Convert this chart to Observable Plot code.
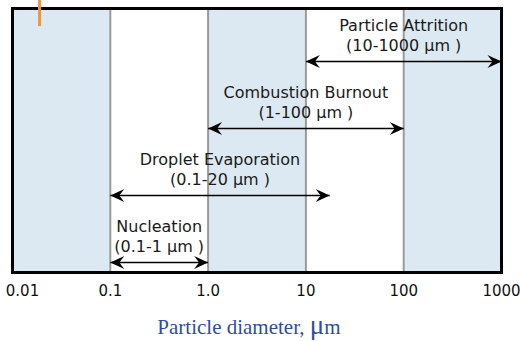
<!DOCTYPE html>
<html>
<head>
<meta charset="utf-8">
<script src="https://cdn.jsdelivr.net/npm/d3@7"></script>
<script src="https://cdn.jsdelivr.net/npm/@observablehq/plot@0.6"></script>
<style>
  html, body { margin: 0; padding: 0; background: #fff; }
  #chart svg { display: block; }
  #xlabel { width: 498px; text-align: center; font-family: "Liberation Serif", "DejaVu Serif", serif; font-size: 21px; line-height: 26px; color: #2f4c9f; margin-top: 7px; }
  #xlabel .mu { font-size: 27px; }
</style>
</head>
<body>
<div id="chart"></div>
<div id="xlabel">Particle diameter, <span class="mu">μ</span>m</div>
<script>
// Decade tick values and labels
const tickValues = [0.01, 0.1, 1, 10, 100, 1000];
const tickLabels = ["0.01", "0.1", "1.0", "10", "100", "1000"];

// Alternating background bands (per decade)
const bandStart = [0.01, 0.1, 1, 10, 100];
const bandEnd   = [0.1, 1, 10, 100, 1000];
const bandShaded = [true, false, true, false, true];

// Processes: size ranges (μm, as drawn) and row level (0 = bottom)
const processNames  = ["Particle Attrition", "Combustion Burnout", "Droplet Evaporation", "Nucleation"];
const processRanges = ["(10-1000 μm )", "(1-100 μm )", "(0.1-20 μm )", "(0.1-1 μm )"];
const rangeStart    = [10, 1, 0.1, 0.1];
const rangeEnd      = [1000, 100, 17.5, 1];
const rowLevel      = [3, 2, 1, 0];

// Small orange marker at top-left
const markerX = [0.0189];

const bands = bandStart.map((s, i) => ({x1: s, x2: bandEnd[i], shaded: bandShaded[i]}));
const procs = processNames.map((n, i) => ({
  name: n, range: processRanges[i], start: rangeStart[i], end: rangeEnd[i], level: rowLevel[i]
}));

// Notched arrowhead symbol, tip at origin pointing right
const arrowHead = {
  draw(context, size) {
    context.moveTo(0, 0);
    context.lineTo(-14, -6.5);
    context.lineTo(-9, 0);
    context.lineTo(-14, 6.5);
    context.closePath();
  }
};

const mid = d => Math.sqrt(d.start * d.end);
const font = "DejaVu Sans, sans-serif";

const chart = Plot.plot({
  width: 520,
  height: 305,
  marginLeft: 12,
  marginRight: 19,
  marginTop: 8,
  marginBottom: 33,
  style: {fontFamily: font, background: "#fff"},
  x: {type: "log", domain: [0.01, 1000]},
  y: {domain: [-0.15, 3.79], axis: null},
  marks: [
    Plot.rect(bands.filter(d => d.shaded), {x1: "x1", x2: "x2", fill: "#dde9f2"}),
    Plot.ruleX(tickValues.slice(1, -1), {stroke: "#9a9a9a", strokeWidth: 2}),
    Plot.link(procs, {x1: "start", x2: "end", y1: "level", y2: "level", stroke: "#000", strokeWidth: 1.6}),
    Plot.dot(procs, {x: "end", y: "level", symbol: arrowHead, fill: "#000", stroke: "none"}),
    Plot.dot(procs, {x: "start", y: "level", symbol: arrowHead, rotate: 180, fill: "#000", stroke: "none"}),
    Plot.text(procs, {x: mid, y: "level", text: "name", dy: -36, fill: "#1a1a1a", fontSize: 16}),
    Plot.text(procs, {x: mid, y: "level", text: "range", dy: -16, fill: "#1a1a1a", fontSize: 16}),
    Plot.frame({stroke: "#000", strokeWidth: 3}),
    Plot.axisX(tickValues.slice(0, 1), {tickFormat: (d) => tickLabels[0], tickSize: 0, tickPadding: 13, dx: 10, fontSize: 15, fill: "#111", label: null}),
    Plot.axisX(tickValues.slice(1), {tickFormat: (d) => tickLabels[tickValues.indexOf(d)], tickSize: 0, tickPadding: 13, fontSize: 15, fill: "#111", label: null}),
    Plot.ruleX(markerX, {y1: 3.91, y2: 3.52, stroke: "#f7923a", strokeWidth: 3, clip: false})
  ]
});
document.getElementById("chart").appendChild(chart);
</script>
</body>
</html>
